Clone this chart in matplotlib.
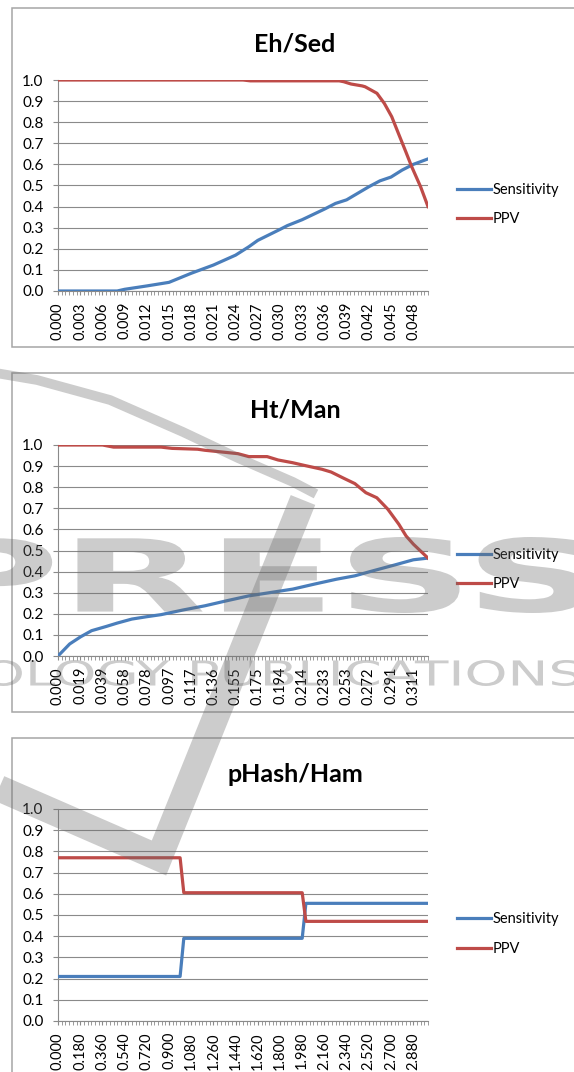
"""Sensitivity / PPV vs threshold for three hash/distance pairs (Excel-style panels)."""
import matplotlib
matplotlib.use("Agg")
import matplotlib.pyplot as plt
from matplotlib.patches import Rectangle, PathPatch
from matplotlib.textpath import TextPath
from matplotlib.font_manager import FontProperties
from matplotlib.transforms import Affine2D
from matplotlib.ticker import MultipleLocator

W, H = 574, 1072
BLUE = "#4A7EBB"
RED = "#BE4B48"
GRID = "#8a8a8a"
WM = "#6a6a6a"

# ---- Eh/Sed ----
EH_SENS_X = [0.000, 0.008, 0.009, 0.012, 0.015, 0.018, 0.021, 0.024, 0.0258, 0.027, 0.030,
             0.031, 0.033, 0.036, 0.0375, 0.039, 0.042, 0.0435, 0.045, 0.0465, 0.048, 0.050]
EH_SENS = [0.0, 0.0, 0.008, 0.024, 0.041, 0.084, 0.123, 0.170, 0.210, 0.240, 0.292,
           0.310, 0.338, 0.388, 0.415, 0.432, 0.494, 0.522, 0.540, 0.573, 0.600, 0.626]
EH_PPV_X = [0.000, 0.025, 0.026, 0.038, 0.0386, 0.0396, 0.0411, 0.0415, 0.0431, 0.0441,
            0.0451, 0.0460, 0.0470, 0.0478, 0.0490, 0.0500]
EH_PPV = [1.0, 1.0, 0.996, 0.996, 0.992, 0.981, 0.972, 0.968, 0.937, 0.889,
          0.826, 0.747, 0.660, 0.589, 0.494, 0.400]
EH_XMAX = 0.050
EH_TICKS = [0.000, 0.003, 0.006, 0.009, 0.012, 0.015, 0.018, 0.021, 0.024, 0.027,
            0.030, 0.033, 0.036, 0.039, 0.042, 0.045, 0.048]
EH_LABELS = ["0.000", "0.003", "0.006", "0.009", "0.012", "0.015", "0.018", "0.021", "0.024",
             "0.027", "0.030", "0.033", "0.036", "0.039", "0.042", "0.045", "0.048"]

# ---- Ht/Man ----
HT_SENS_X = [0.0, 0.0102, 0.0198, 0.0294, 0.0422, 0.0518, 0.0646, 0.0774, 0.0902, 0.1094,
             0.1286, 0.1478, 0.1670, 0.1862, 0.2054, 0.2246, 0.2438, 0.2598, 0.2758, 0.2950,
             0.3110, 0.3238]
HT_SENS = [0.0, 0.057, 0.091, 0.120, 0.140, 0.156, 0.175, 0.186, 0.196, 0.218,
           0.238, 0.262, 0.285, 0.301, 0.317, 0.341, 0.364, 0.380, 0.404, 0.432,
           0.456, 0.464]
HT_PPV_X = [0.0, 0.039, 0.0486, 0.0902, 0.0998, 0.1222, 0.1286, 0.1414, 0.1574, 0.1670,
            0.1830, 0.1926, 0.2054, 0.2150, 0.2310, 0.2390, 0.2502, 0.2598, 0.2694, 0.2790,
            0.2886, 0.2982, 0.3046, 0.3110, 0.3238]
HT_PPV = [1.0, 1.0, 0.990, 0.990, 0.984, 0.980, 0.975, 0.968, 0.959, 0.945,
          0.945, 0.929, 0.916, 0.904, 0.885, 0.872, 0.842, 0.817, 0.774, 0.750,
          0.696, 0.625, 0.569, 0.530, 0.464]
HT_XMAX = 0.3238
HT_TICKS = [0.0, 0.01943, 0.03886, 0.05828, 0.07771, 0.09714, 0.11657, 0.13600, 0.15542,
            0.17485, 0.19428, 0.21371, 0.23314, 0.25256, 0.27199, 0.29142, 0.31085]
HT_LABELS = ["0.000", "0.019", "0.039", "0.058", "0.078", "0.097", "0.117", "0.136", "0.155",
             "0.175", "0.194", "0.214", "0.233", "0.253", "0.272", "0.291", "0.311"]

# ---- pHash/Ham ----
PH_X = [0.0, 0.99, 1.02, 1.98, 2.01, 3.0]
PH_SENS = [0.21, 0.21, 0.39, 0.39, 0.555, 0.555]
PH_PPV = [0.77, 0.77, 0.605, 0.605, 0.47, 0.47]
PH_XMAX = 3.0
PH_TICKS = [0.0, 0.18, 0.36, 0.54, 0.72, 0.90, 1.08, 1.26, 1.44, 1.62, 1.80,
            1.98, 2.16, 2.34, 2.52, 2.70, 2.88]
PH_LABELS = ["0.000", "0.180", "0.360", "0.540", "0.720", "0.900", "1.080", "1.260", "1.440",
             "1.620", "1.800", "1.980", "2.160", "2.340", "2.520", "2.700", "2.880"]

plt.rcParams["font.family"] = ["Lato", "DejaVu Sans"]


def fy(y):
    return 1 - y / H


def panel(fig, box, ax_top, ax_bot, title, title_base, sx, sy, px, py, xmax, ticks, labels):
    # chart-area frame
    x0, y0, y1 = box
    fig.add_artist(Rectangle((x0 / W, fy(y1)), (W + 20 - x0) / W, (y1 - y0) / H,
                             transform=fig.transFigure, facecolor="white",
                             edgecolor="#a6a6a6", lw=1.1, zorder=-5))
    fig.text(295 / W, fy(title_base), title, ha="center", va="baseline",
             fontsize=18, fontweight="bold")
    ax = fig.add_axes([58 / W, fy(ax_bot), (428 - 58) / W, (ax_bot - ax_top) / H])
    ax.set_facecolor("none")
    l1, = ax.plot(sx, sy, color=BLUE, lw=2.3, label="Sensitivity", zorder=3)
    l2, = ax.plot(px, py, color=RED, lw=2.3, label="PPV", zorder=3)
    ax.set_xlim(0, xmax)
    ax.set_ylim(0, 1.0)
    ax.yaxis.set_major_locator(MultipleLocator(0.1))
    ax.yaxis.set_major_formatter(plt.FuncFormatter(lambda v, p: "%.1f" % v))
    ax.grid(axis="y", color=GRID, lw=0.8)
    ax.set_axisbelow(True)
    ax.set_xticks(ticks)
    ax.set_xticklabels(labels, rotation=90, fontsize=10.5)
    ax.xaxis.set_minor_locator(MultipleLocator(xmax / 100))
    for s in ("top", "right"):
        ax.spines[s].set_visible(False)
    for s in ("left", "bottom"):
        ax.spines[s].set_color(GRID)
        ax.spines[s].set_linewidth(0.8)
    ax.tick_params(axis="y", length=3.5, pad=7, color=GRID, labelsize=11)
    ax.tick_params(axis="x", which="both", length=3, pad=5, color=GRID)
    mid = (ax_top + ax_bot) / 2 + 19
    ax.legend(handles=[l1, l2], loc="center left", bbox_to_anchor=(457 / W, fy(mid)),
              bbox_transform=fig.transFigure, frameon=False, fontsize=10.5,
              handlelength=2.3, handletextpad=0.15, labelspacing=1.05,
              borderpad=0, borderaxespad=0)
    return ax


def fit_text(ov, s, x0, x1, y0, y1, weight):
    tp = TextPath((0, 0), s, size=100, prop=FontProperties(family="DejaVu Sans", weight=weight))
    bb = tp.get_extents()
    tr = Affine2D().translate(-bb.x0, -bb.y0).scale((x1 - x0) / bb.width,
                                                    -(y1 - y0) / bb.height).translate(x0, y1)
    ov.add_patch(PathPatch(tr.transform_path(tp), facecolor=WM, edgecolor="none", alpha=0.34))


def watermark(fig):
    ov = fig.add_axes([0, 0, 1, 1], zorder=10)
    ov.set_xlim(0, W)
    ov.set_ylim(H, 0)
    ov.axis("off")
    ov.patch.set_alpha(0)
    fit_text(ov, "PRESS", -62, 588, 537, 613, "bold")
    fit_text(ov, "OLOGY PUBLICATIONS", -15, 580, 660, 686, "normal")
    ov.plot([-20, 159, 303], [780, 858, 500], color=WM, alpha=0.34, lw=19,
            solid_joinstyle="miter", solid_capstyle="butt")
    ov.plot([-10, 37, 110, 183, 238, 293, 316], [372, 380, 400, 432, 458, 482, 494],
            color=WM, alpha=0.34, lw=7, solid_capstyle="butt")


def main():
    fig = plt.figure(figsize=(W / 100, H / 100), dpi=100)
    panel(fig, (12, 8, 347), 80, 291, "Eh/Sed", 52,
          EH_SENS_X, EH_SENS, EH_PPV_X, EH_PPV, EH_XMAX, EH_TICKS, EH_LABELS)
    panel(fig, (12, 373, 712), 445, 656, "Ht/Man", 417,
          HT_SENS_X, HT_SENS, HT_PPV_X, HT_PPV, HT_XMAX, HT_TICKS, HT_LABELS)
    panel(fig, (12, 738, 1090), 809, 1021, "pHash/Ham", 782,
          PH_X, PH_SENS, PH_X, PH_PPV, PH_XMAX, PH_TICKS, PH_LABELS)
    watermark(fig)
    fig.savefig("out.png", dpi=100)


if __name__ == "__main__":
    main()
